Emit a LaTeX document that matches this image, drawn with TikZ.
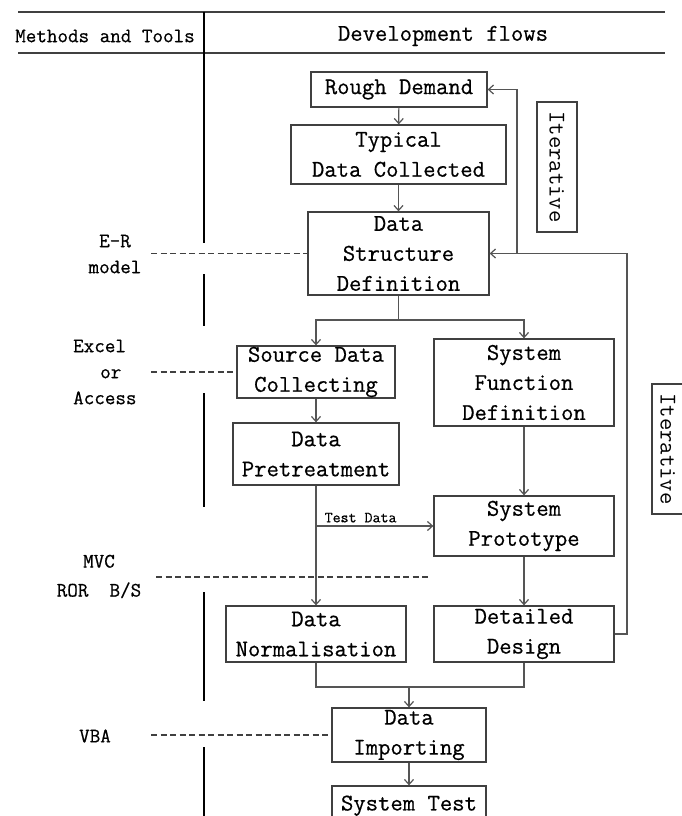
\documentclass[tikz,border=0pt]{standalone}
\usepackage{fontspec}
\setmonofont{Latin Modern Mono}[FakeBold=0.6]
\newfontfamily\itfont{Latin Modern Mono}
\usetikzlibrary{arrows.meta}
\definecolor{boxgray}{HTML}{404040}
\definecolor{linegray}{HTML}{555555}
\begin{document}
\begin{tikzpicture}[x=1pt,y=-1pt,
  flowbox/.style={draw=boxgray,line width=1.3pt,inner sep=0pt,align=center,
    font=\ttfamily\fontsize{24}{30}\selectfont},
  itbox/.style={draw=boxgray,line width=1.2pt,inner sep=0pt,rotate=-90,
    font=\itfont\fontsize{24}{26}\selectfont,minimum width=130pt},
  lbl/.style={inner sep=0pt,align=center,font=\ttfamily\fontsize{20.5}{26}\selectfont},
  arr/.style={draw=linegray,line width=1.2pt,-{Straight Barb[length=5pt,width=9pt]}},
  conn/.style={draw=linegray,line width=1.2pt},
  dashline/.style={draw=boxgray,line width=1.4pt,dash pattern=on 6pt off 3.5pt},
  sep/.style={draw=black,line width=1.2pt}]
\useasboundingbox (0,0) rectangle (682,816);
\clip (0,0) rectangle (682,816);

% header
\draw[sep,draw=boxgray,line width=1.5pt] (18,12) -- (665,12);
\draw[sep,draw=boxgray,line width=1.5pt] (18,53) -- (665,53);
\node[lbl] (hmt) at (105,36) {Methods and Tools};
\node[inner sep=0pt,font=\ttfamily\fontsize{24}{30}\selectfont] (hdf) at (443,36) {Development flows};

% vertical separator segments
\draw[sep] (204,12) -- (204,243);
\draw[sep] (204,274) -- (204,326);
\draw[sep] (204,393) -- (204,507);
\draw[sep] (204,592) -- (204,701);
\draw[sep] (204,747) -- (204,816);

% boxes
\node[flowbox,minimum width=176pt,minimum height=35pt] (rd) at (399,89.5) {Rough Demand};
\node[flowbox,minimum width=215pt,minimum height=59pt] (tdc) at (398.5,154.5) {Typical\\Data Collected};
\node[flowbox,minimum width=181pt,minimum height=83pt] (dsd) at (398.5,253.5) {Data\\Structure\\Definition};
\node[flowbox,minimum width=158pt,minimum height=52pt] (sdc) at (316,372) {Source Data\\Collecting};
\node[flowbox,minimum width=180pt,minimum height=87pt] (sfd) at (524,382.5) {System\\Function\\Definition};
\node[flowbox,minimum width=166pt,minimum height=62pt] (dp) at (316,454) {Data\\Pretreatment};
\node[flowbox,minimum width=180pt,minimum height=60pt] (sp) at (524,526) {System\\Prototype};
\node[flowbox,minimum width=180pt,minimum height=56pt] (dn) at (316,634) {Data\\Normalisation};
\node[flowbox,minimum width=180pt,minimum height=56pt] (dd) at (524,634) {Detailed\\Design};
\node[flowbox,minimum width=154pt,minimum height=54pt] (di) at (409,735) {Data\\Importing};
\node[flowbox,minimum width=154pt,minimum height=40pt,text depth=6pt] (st) at (409,806) {System Test};

\node[itbox,minimum height=40pt] (it1) at (557,167) {Iterative};
\node[itbox,minimum height=32pt] (it2) at (668,449) {Iterative};

% left labels
\node[lbl] (er) at (115,254) {E-R\\model};
\node[lbl,align=left,anchor=west] (ex) at (73,372) {Excel\\\hspace{27pt}or\\Access};
\node[lbl,font=\ttfamily\fontsize{20.5}{29}\selectfont] (mvc) at (99,576.5) {MVC\\ROR\ \ B/S};
\node[lbl] (vba) at (95,736) {VBA};

% coordinates
\coordinate (split) at (398.5,320);
\coordinate (tdj) at (316,526);
\coordinate (merge) at (409,687);
\coordinate (fbR) at (627,253.5);
\coordinate (fbM) at (517,253.5);
\coordinate (erL) at (151,253.5);
\coordinate (exL) at (151,372);
\coordinate (mvcL) at (156,577);
\coordinate (mvcR) at (430,577);
\coordinate (vbaL) at (151,735);

% flow connectors
\draw[arr] (rd) -- (tdc);
\draw[arr] (tdc) -- (dsd);
\draw[conn] (dsd.south) -- (split);
\draw[arr] (split) -| (sdc.north);
\draw[arr] (split) -| (sfd.north);
\draw[arr] (sdc) -- (dp);
\draw[arr] (sfd) -- (sp);
\draw[conn] (dp.south) -- (tdj);
\draw[arr] (tdj) -- node[above=3pt,pos=0.38,inner sep=0pt,font=\ttfamily\fontsize{15.5}{18}\selectfont] (tdl) {Test Data} (sp.west);
\draw[arr] (tdj) -- (dn.north);
\draw[arr] (sp) -- (dd);
\draw[conn] (dn.south) |- (merge) -| (dd.south);
\draw[arr] (merge) -- (di.north);
\draw[arr] (di) -- (st);

% feedback loops
\draw[arr] (dd.east) -| (fbR) -- (dsd.east);
\draw[arr] (fbM) |- (rd.east);

% dashed links
\draw[dashline] (erL) -- (dsd.west);
\draw[dashline] (exL) -- (sdc.west);
\draw[dashline] (mvcL) -- (mvcR);
\draw[dashline] (vbaL) -- (di.west);
\end{tikzpicture}
\end{document}
